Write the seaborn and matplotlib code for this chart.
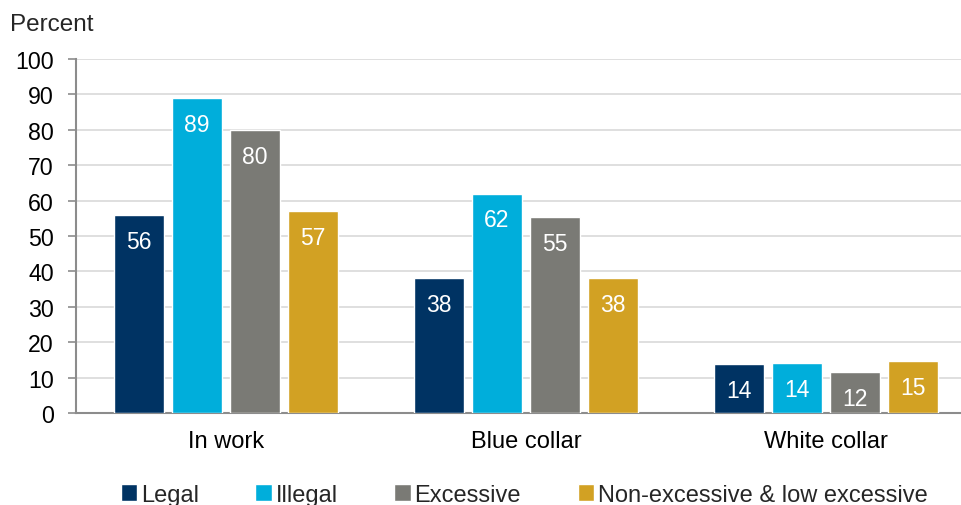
import matplotlib
matplotlib.use("Agg")
import matplotlib.pyplot as plt
import seaborn as sns
import pandas as pd

categories = ["In work", "Blue collar", "White collar"]
series = ["Legal", "Illegal", "Excessive", "Non-excessive & low excessive"]
legal = [56, 38, 13.8]
illegal = [89, 62, 14]
excessive = [80, 55.4, 11.6]
non_excessive = [57, 38.2, 14.6]
colors = ["#003363", "#00AEDB", "#7A7A75", "#D2A123"]
y_ticks = list(range(0, 101, 10))

rows = []
for name, vals in zip(series, [legal, illegal, excessive, non_excessive]):
    for cat, v in zip(categories, vals):
        rows.append({"category": cat, "series": name, "value": v})
df = pd.DataFrame(rows)

sns.set_theme(style="white")
plt.rcParams["font.family"] = ["Liberation Sans", "DejaVu Sans"]

fig = plt.figure(figsize=(9.62, 5.06), dpi=100)
ax = fig.add_axes([76 / 962, 1 - 414 / 506, 900 / 962, 354 / 506])

sns.barplot(data=df, x="category", y="value", hue="series", order=categories,
            hue_order=series, palette=colors, width=0.773, gap=0.14,
            saturation=1, errorbar=None, ax=ax, zorder=3)

for cont in ax.containers:
    texts = ax.bar_label(cont, fmt="%.0f", label_type="edge", padding=-19,
                         color="white", fontsize=16.5)
    for t in texts:
        t.set_va("center")

ax.set_ylim(0, 100)
ax.set_yticks(y_ticks)
ax.set_xlabel("")
ax.set_ylabel("")
ax.yaxis.grid(True, color="#D9D9D9", linewidth=1.2, zorder=0)
ax.set_axisbelow(True)
for s in ["top", "right"]:
    ax.spines[s].set_visible(False)
for s in ["left", "bottom"]:
    ax.spines[s].set_color("#8C8C8C")
    ax.spines[s].set_linewidth(1.5)
ax.tick_params(axis="y", which="major", left=True, length=6, width=1.2,
               color="#8C8C8C", labelsize=16.7, pad=10, labelcolor="black")
ax.tick_params(axis="x", length=0, labelsize=17, pad=12, labelcolor="black")

fig.text(10 / 962, 1 - 25 / 506, "Percent", fontsize=17.5, va="center", ha="left")

handles, labels = ax.get_legend_handles_labels()
if ax.legend_:
    ax.legend_.remove()
fig.legend(handles, labels, loc="center", bbox_to_anchor=(524 / 962, 1 - 496 / 506),
           ncol=4, frameon=False, fontsize=17, handlelength=0.7, handleheight=0.7,
           handletextpad=0.15, columnspacing=2.4, borderaxespad=0)

fig.savefig("out.png", dpi=100)
